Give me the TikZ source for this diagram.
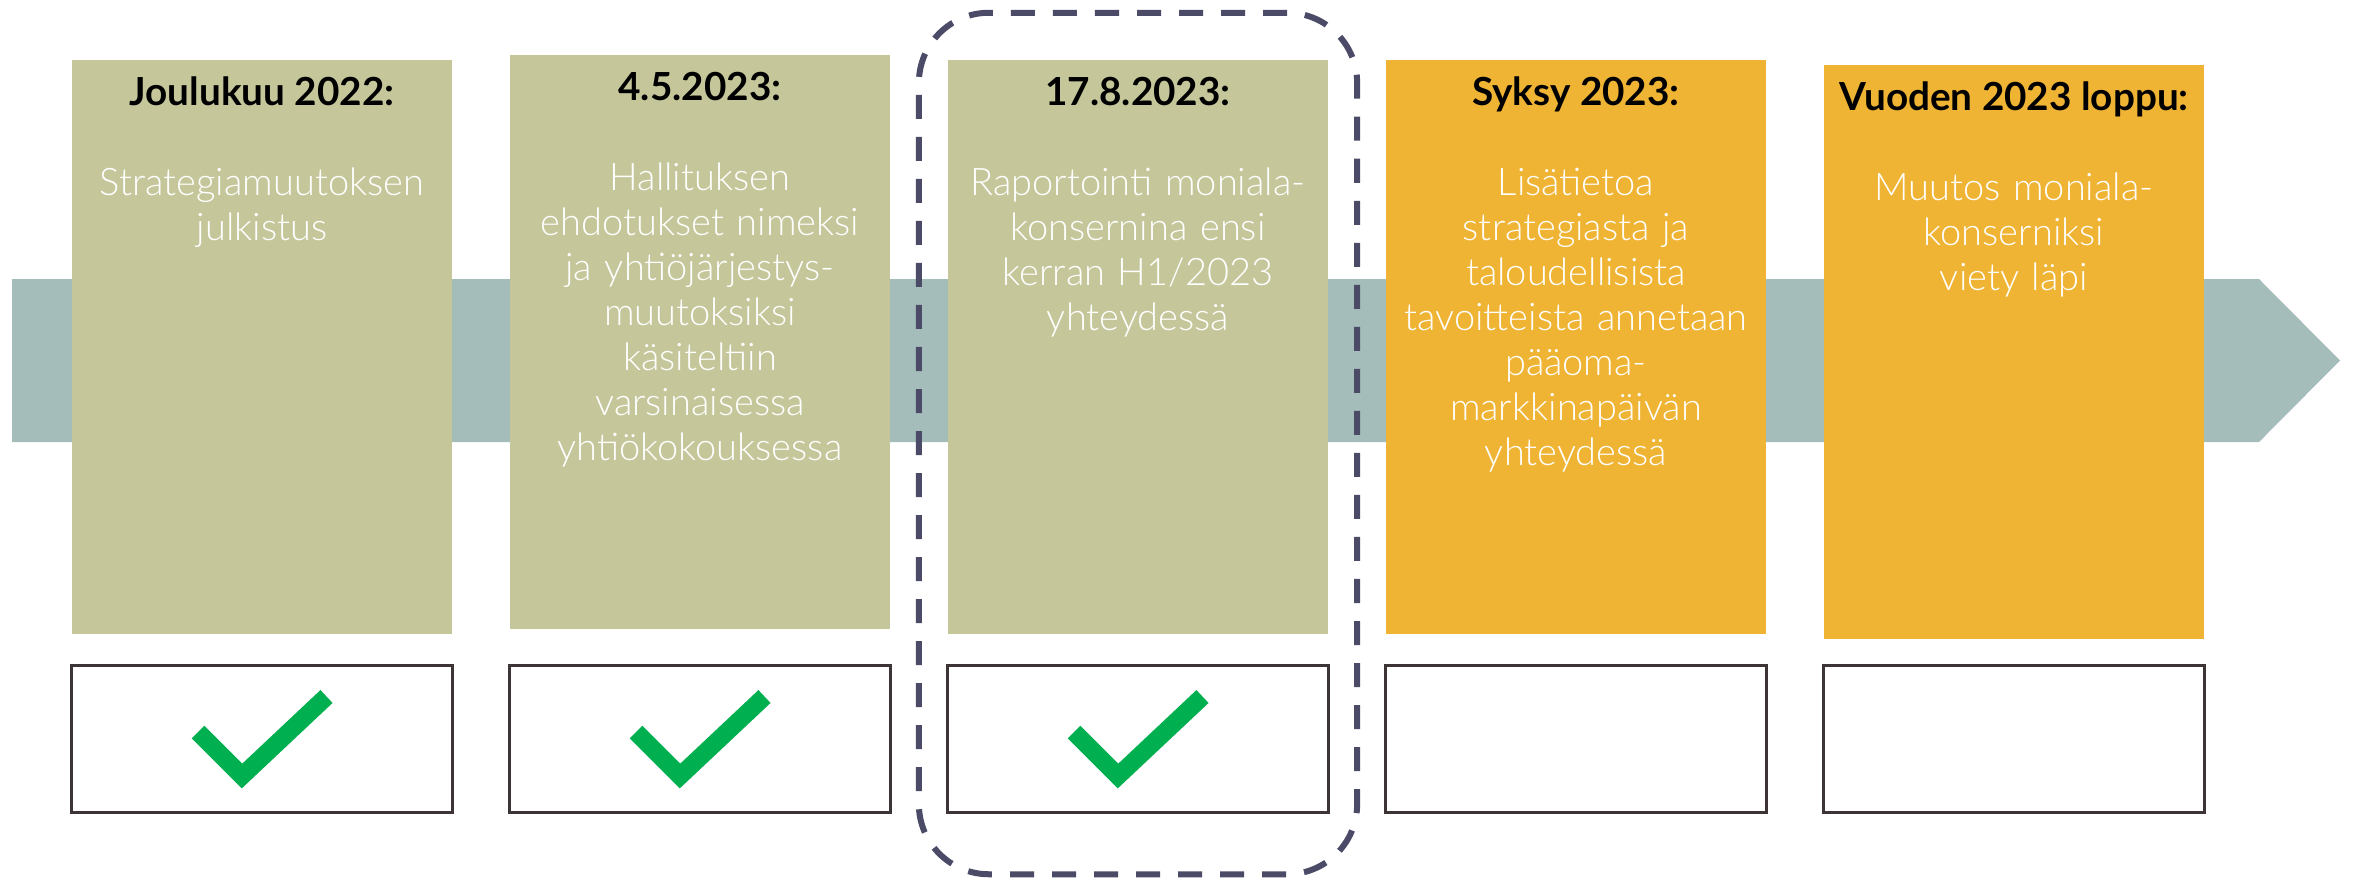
\documentclass[tikz,border=0pt]{standalone}
\usepackage{fontspec}
\setmainfont{Lato}
\newfontfamily\lightfont{Lato Light}
\definecolor{olivebox}{HTML}{C5C79B}
\definecolor{orangebox}{HTML}{F0B434}
\definecolor{bandgrey}{HTML}{A5BDBA}
\definecolor{tickgreen}{HTML}{00B050}
\definecolor{frameline}{HTML}{3D3535}
\definecolor{focusline}{HTML}{4B4B68}

\begin{document}
\begin{tikzpicture}[x=0.01cm, y=-0.01cm,
    event/.style={minimum width=3.8cm, minimum height=5.74cm, inner sep=0pt},
    status/.style={draw=frameline, line width=0.03cm, fill=white, minimum width=3.8cm, minimum height=1.46cm, inner sep=0pt},
    head/.style={anchor=base, inner sep=0pt, text=black, font=\bfseries\fontsize{11}{13}\selectfont},
    body/.style={anchor=base, inner sep=0pt, text=white, text width=4.2cm, align=center, font=\lightfont\fontsize{10.8}{12.8}\selectfont},
    tick/.style={draw=tickgreen, line width=0.177cm, line join=miter}]
    \useasboundingbox (0,0) rectangle (2354,878);

    \fill[bandgrey] (12,279) -- (2259,279) -- (2340,360.5) -- (2259,442) -- (12,442) -- cycle;

    \node (b1) at (262,347) [event, fill=olivebox] {};
    \node (h1) at (262,105) [head] {Joulukuu 2022:};
    \node (t1) at (262,195) [body] {Strategiamuutoksen\\julkistus};

    \node (b2) at (700,342) [event, fill=olivebox] {};
    \node (h2) at (700,100) [head] {4.5.2023:};
    \node (t2) at (700,190) [body] {Hallituksen\\ehdotukset nimeksi\\ja yhtiöjärjestys-\\muutoksiksi\\käsiteltiin\\varsinaisessa\\yhtiökokouksessa};

    \node (b3) at (1138,347) [event, fill=olivebox] {};
    \node (h3) at (1138,105) [head] {17.8.2023:};
    \node (t3) at (1138,195) [body] {Raportointi moniala-\\konsernina ensi\\kerran H1/2023\\yhteydessä};

    \node (b4) at (1576,347) [event, fill=orangebox] {};
    \node (h4) at (1576,105) [head] {Syksy 2023:};
    \node (t4) at (1576,195) [body] {Lisätietoa\\strategiasta ja\\taloudellisista\\tavoitteista annetaan\\pääoma-\\markkinapäivän\\yhteydessä};

    \node (b5) at (2014,352) [event, fill=orangebox] {};
    \node (h5) at (2014,110) [head] {Vuoden 2023 loppu:};
    \node (t5) at (2014,200) [body] {Muutos moniala-\\konserniksi\\viety läpi};

    \node (c1) at (262,739) [status] {};
    \node (c2) at (700,739) [status] {};
    \node (c3) at (1138,739) [status] {};
    \node (c4) at (1576,739) [status] {};
    \node (c5) at (2014,739) [status] {};

    \draw[tick] ([shift={(-64,-7)}]c1.center) -- ([shift={(-20,37)}]c1.center) -- ([shift={(64.5,-42.5)}]c1.center);
    \draw[tick] ([shift={(-64,-7)}]c2.center) -- ([shift={(-20,37)}]c2.center) -- ([shift={(64.5,-42.5)}]c2.center);
    \draw[tick] ([shift={(-64,-7)}]c3.center) -- ([shift={(-20,37)}]c3.center) -- ([shift={(64.5,-42.5)}]c3.center);

    \node (focus) at (1138,443.5) [draw=focusline, line width=0.06cm, dash pattern=on 0.24cm off 0.18cm,
        rounded corners=0.7cm, minimum width=4.38cm, minimum height=8.61cm] {};
\end{tikzpicture}
\end{document}
